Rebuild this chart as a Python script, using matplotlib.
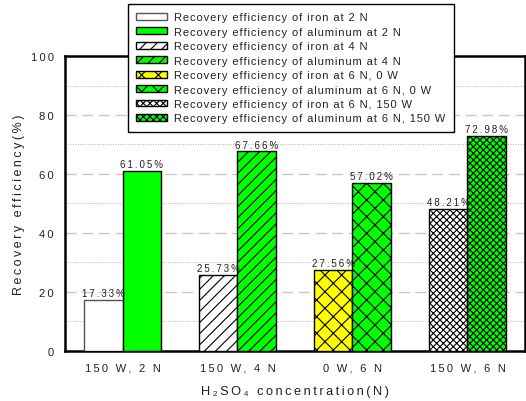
import matplotlib
matplotlib.use('Agg')
import matplotlib.pyplot as plt
import numpy as np

plt.rcParams['font.family'] = ['Liberation Sans', 'DejaVu Sans']
plt.rcParams['hatch.linewidth'] = 0.8

# conditions on the x axis
conditions = ['150 W, 2 N', '150 W, 4 N', '0 W, 6 N', '150 W, 6 N']
# recovery efficiency (%) for iron and aluminum
iron = [17.33, 25.73, 27.56, 48.21]
aluminum = [61.05, 67.66, 57.02, 72.98]

iron_labels = ['Recovery efficiency of iron at 2 N',
               'Recovery efficiency of iron at 4 N',
               'Recovery efficiency of iron at 6 N, 0 W',
               'Recovery efficiency of iron at 6 N, 150 W']
alu_labels = ['Recovery efficiency of aluminum at 2 N',
              'Recovery efficiency of aluminum at 4 N',
              'Recovery efficiency of aluminum at 6 N, 0 W',
              'Recovery efficiency of aluminum at 6 N, 150 W']

iron_colors = ['white', 'white', '#ffff00', 'white']
alu_colors = ['#00ff00', '#00ff00', '#00ff00', '#00ff00']
hatches = ['', '///', 'xx', 'xxxxx']


def spread(s, gap='\u200a'):
    # wide letter spacing like the old plotting software
    return gap.join(s)


fig = plt.figure(figsize=(5.26, 4.02), dpi=100)
ax = fig.add_axes([0.1236, 0.1244, 0.8744, 0.7338])

x = np.arange(len(conditions))
w = 0.335
handles = []
for i in range(len(conditions)):
    b1 = ax.bar(x[i] - w / 2, iron[i], w, color=iron_colors[i], edgecolor='black' if i else '#555555',
                hatch=hatches[i], linewidth=1, zorder=3, label=spread(iron_labels[i]))
    b2 = ax.bar(x[i] + w / 2, aluminum[i], w, color=alu_colors[i], edgecolor='black',
                hatch=hatches[i], linewidth=1, zorder=3, label=spread(alu_labels[i]))
    handles += [b1, b2]
    ax.text(x[i] - w / 2, iron[i] + 0.6, spread('%.2f%%' % iron[i], '\u2009'), ha='center', va='bottom',
            fontsize=7, color='#222222', zorder=4)
    ax.text(x[i] + w / 2, aluminum[i] + 0.6, spread('%.2f%%' % aluminum[i], '\u2009'), ha='center',
            va='bottom', fontsize=7, color='#222222', zorder=4)

ax.set_xlim(-0.5, 3.5)
ax.set_ylim(0, 100)
ax.set_xticks(x)
ax.set_xticklabels([spread(c, '\u2009') for c in conditions], fontsize=8, color='#222222')
ax.set_yticks(np.arange(0, 101, 20))
ax.set_yticklabels([spread(str(v), '\u2009') for v in range(0, 101, 20)], fontsize=8, color='#222222')
ax.tick_params(axis='both', length=0, pad=8)

# dashed grid at 20s, dotted at the tens in between
for v in [20, 40, 60, 80]:
    ax.axhline(v, color='#c8c8c8', lw=1, ls=(0, (8, 4)), zorder=1)
for v in [10, 30, 50, 70, 90]:
    ax.axhline(v, color='#999999', lw=0.6, ls=(0, (1, 2)), zorder=1)

for sp in ax.spines.values():
    sp.set_linewidth(1.8)
    sp.set_color('black')

ax.set_ylabel(spread('Recovery efficiency(%)', '\u2009'), fontsize=9, color='#222222', labelpad=4)
ax.set_xlabel(spread('H\u2082SO\u2084 concentration(N)', '\u2009'), fontsize=9.2, color='#222222',
              labelpad=9)

leg = fig.legend(handles=handles, loc='upper left', bbox_to_anchor=(0.243, 0.9876), borderaxespad=0,
                 fontsize=8, frameon=True, fancybox=False, edgecolor='black',
                 framealpha=1, handlelength=2.8, handleheight=0.55, handletextpad=0.6,
                 labelspacing=0.4, borderpad=0.75)
leg.get_frame().set_linewidth(1)
for t in leg.get_texts():
    t.set_color('#222222')

fig.savefig('out.png', dpi=100)
